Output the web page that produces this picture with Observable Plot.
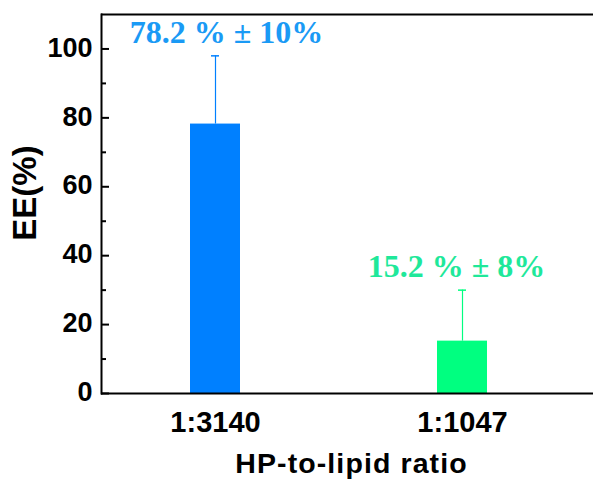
<!DOCTYPE html>
<html>
<head>
<meta charset="utf-8">
<script src="https://cdn.jsdelivr.net/npm/d3@7"></script>
<script src="https://cdn.jsdelivr.net/npm/@observablehq/plot@0.6"></script>
<style>
  html, body { margin: 0; padding: 0; background: #fff; }
</style>
</head>
<body>
<div id="chart"></div>
<script>
const categories = ["1:3140", "1:1047"];
const values = [78.2, 15.2];
const errTops = [98, 30];
const labels = ["78.2 % ± 10%", "15.2 % ± 8%"];
const barColors = ["#0080ff", "#00ff80"];
const labelColors = ["#1a9af5", "#1fe89a"];
const majorTicks = [0, 20, 40, 60, 80, 100];
const minorTicks = [10, 30, 50, 70, 90];
const yDomain = [0, 110];
const xTitle = "HP-to-lipid ratio";
const yTitle = "EE(%)";

const data = categories.map((c, i) => ({
  cat: c, value: values[i], top: errTops[i], label: labels[i],
  color: barColors[i], labelColor: labelColors[i]
}));

const W = 593, H = 479, ML = 101, MR = 0, MT = 14, MB = 86;
const plotW = W - ML - MR;
const sans = "'Liberation Sans', Arial, Helvetica, sans-serif";
const serif = "'Liberation Serif', 'Times New Roman', Times, serif";

const chart = Plot.plot({
  width: W,
  height: H,
  marginLeft: ML,
  marginRight: MR,
  marginTop: MT,
  marginBottom: MB,
  style: { fontFamily: sans, background: "#fff", color: "#000" },
  x: { domain: categories, range: [101, 576], paddingInner: 0.798, paddingOuter: 0.36, label: null },
  y: { domain: yDomain, label: null, axis: null },
  color: { type: "identity" },
  marks: [
    Plot.barY(data, { x: "cat", y: "value", fill: "color" }),
    Plot.ruleX(data, { x: "cat", y1: "value", y2: "top", stroke: "color", strokeWidth: 1.2 }),
    Plot.tickY(data, { x: "cat", y: "top", stroke: "color", strokeWidth: 1.5, insetLeft: 21, insetRight: 21 }),
    Plot.text(data.slice(0, 1), { x: "cat", y: "top", text: "label", fill: "labelColor", lineAnchor: "bottom", dx: 11, dy: -13, fontFamily: serif, fontWeight: "bold", fontSize: 32 }),
    Plot.text(data.slice(1, 2), { x: "cat", y: "top", text: "label", fill: "labelColor", lineAnchor: "bottom", dx: -6, dy: -13, fontFamily: serif, fontWeight: "bold", fontSize: 32 }),
    Plot.ruleY(yDomain, { stroke: "#000", strokeWidth: 2 }),
    Plot.frame({ anchor: "left", stroke: "#000", strokeWidth: 2 }),
    Plot.tickY(majorTicks, { y: d => d, stroke: "#000", strokeWidth: 2, insetRight: plotW - 8 }),
    Plot.tickY(minorTicks, { y: d => d, stroke: "#000", strokeWidth: 2, insetRight: plotW - 5 }),
    Plot.text(majorTicks, { y: d => d, text: d => String(d), frameAnchor: "left", textAnchor: "end", lineAnchor: "middle", dx: -9, dy: -1, fontSize: 27, fontWeight: "bold", fill: "#000" }),
    Plot.axisX({ tickSize: 0, tickPadding: 18, fontSize: 29, fontWeight: "bold", label: null }),
    Plot.text([xTitle], { frameAnchor: "bottom", textAnchor: "middle", lineAnchor: "bottom", dx: 4, dy: 79, fontSize: 28.5, fontWeight: "bold" }),
    Plot.text([yTitle], { frameAnchor: "left", textAnchor: "middle", lineAnchor: "bottom", rotate: -90, dx: -66, dy: -11, fontSize: 33, fontWeight: "bold" })
  ]
});

document.getElementById("chart").appendChild(chart);
d3.select(chart).selectAll("text").filter(function () { return this.textContent === xTitle; })
  .style("letter-spacing", "1.1px");
const tickStrings = majorTicks.map(String);
d3.select(chart).selectAll("text").filter(function () { return tickStrings.includes(this.textContent); })
  .style("font-size", "27px").style("font-weight", "bold");
</script>
</body>
</html>
